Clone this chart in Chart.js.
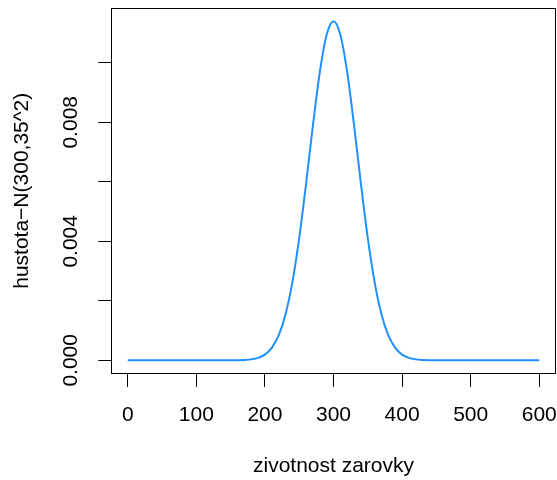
<!DOCTYPE html>
<html>
<head>
<meta charset="utf-8">
<script src="https://cdn.jsdelivr.net/npm/chart.js@4/dist/chart.umd.min.js"></script>
<style>
  html, body { margin: 0; padding: 0; background: #ffffff; }
  #c { display: block; }
</style>
</head>
<body>
<canvas id="c" width="557" height="480"></canvas>
<script>
// ---- data ----
const lifeHours = [
  0, 10, 20, 30, 40, 50, 60, 70, 80, 90,
  100, 110, 120, 130, 140, 150, 160, 170, 180, 190,
  200, 210, 220, 230, 240, 250, 260, 270, 280, 290,
  300, 310, 320, 330, 340, 350, 360, 370, 380, 390,
  400, 410, 420, 430, 440, 450, 460, 470, 480, 490,
  500, 510, 520, 530, 540, 550, 560, 570, 580, 590, 600
];
const density = [
  0, 0, 0, 0, 0, 0, 0, 0, 0, 0,
  0, 0, 0, 0, 0, 0.0000012, 0.0000038, 0.0000115, 0.0000319, 0.0000816,
  0.000192, 0.000418, 0.000836, 0.001543, 0.002622, 0.004108, 0.005932, 0.007894, 0.009681, 0.010942,
  0.011398, 0.010942, 0.009681, 0.007894, 0.005932, 0.004108, 0.002622, 0.001543, 0.000836, 0.000418,
  0.000192, 0.0000816, 0.0000319, 0.0000115, 0.0000038, 0.0000012, 0, 0, 0, 0,
  0, 0, 0, 0, 0, 0, 0, 0, 0, 0, 0
];
const xTicks = [0, 100, 200, 300, 400, 500, 600];
const yTicks = [0, 0.002, 0.004, 0.006, 0.008, 0.010];
const yLabelled = ["0.000", "", "0.004", "", "0.008", ""];
const xTitle = "zivotnost zarovky";
const yTitle = "hustota\u2212N(300,35^2)";

const FONT = "'Liberation Sans', Arial, Helvetica, sans-serif";

const boxPlugin = {
  id: 'rbox',
  afterDraw(chart) {
    const a = chart.chartArea;
    const ctx = chart.ctx;
    ctx.save();
    ctx.strokeStyle = '#000000';
    ctx.lineWidth = 1;
    const l = Math.round(a.left) + 0.5, t = Math.round(a.top) + 0.5;
    const r = Math.round(a.right) - 0.5, b = Math.round(a.bottom) - 0.5;
    ctx.strokeRect(l, t, r - l, b - t);
    ctx.restore();
  }
};

function zeroPad(s) {
  s.paddingLeft = 0; s.paddingRight = 0; s.paddingTop = 0; s.paddingBottom = 0;
}

const pts = lifeHours.map((x, i) => ({ x: x, y: density[i] }));

new Chart(document.getElementById('c'), {
  type: 'line',
  data: {
    datasets: [{
      data: pts,
      borderColor: '#1E90FF',
      borderWidth: 2,
      pointRadius: 0,
      fill: false,
      cubicInterpolationMode: 'monotone'
    }]
  },
  options: {
    responsive: false,
    devicePixelRatio: 1,
    animation: false,
    layout: { padding: { left: 0, top: 7.6, right: 1.3, bottom: 0 } },
    plugins: { legend: { display: false }, tooltip: { enabled: false } },
    scales: {
      x: {
        type: 'linear',
        min: -24, max: 624,
        afterFit(s) { s.height = 106.1; zeroPad(s); },
        afterBuildTicks(s) { s.ticks = xTicks.map(v => ({ value: v })); },
        border: { display: false },
        grid: { display: true, drawOnChartArea: false, drawTicks: true, tickLength: 13, color: '#000000', lineWidth: 1 },
        ticks: {
          autoSkip: false, maxRotation: 0, minRotation: 0, padding: 16,
          color: '#000000', font: { family: FONT, size: 21 },
          callback: (v) => String(v)
        },
        title: { display: true, text: xTitle, color: '#000000', font: { family: FONT, size: 21 }, padding: { top: 0, bottom: 1 } }
      },
      y: {
        type: 'linear',
        min: -0.000456, max: 0.011854,
        afterFit(s) { s.width = 111.3; zeroPad(s); },
        afterBuildTicks(s) { s.ticks = yTicks.map(v => ({ value: v })); },
        border: { display: false },
        grid: { display: true, drawOnChartArea: false, drawTicks: true, tickLength: 13, color: '#000000', lineWidth: 1 },
        ticks: {
          autoSkip: false, minRotation: 90, maxRotation: 90, padding: 1.3, crossAlign: 'center',
          color: '#000000', font: { family: FONT, size: 21 },
          callback: (v, i) => yLabelled[i]
        },
        title: { display: true, text: yTitle, color: '#000000', font: { family: FONT, size: 21 }, padding: { top: 10, bottom: 0 } }
      }
    }
  },
  plugins: [boxPlugin]
});
</script>
</body>
</html>
